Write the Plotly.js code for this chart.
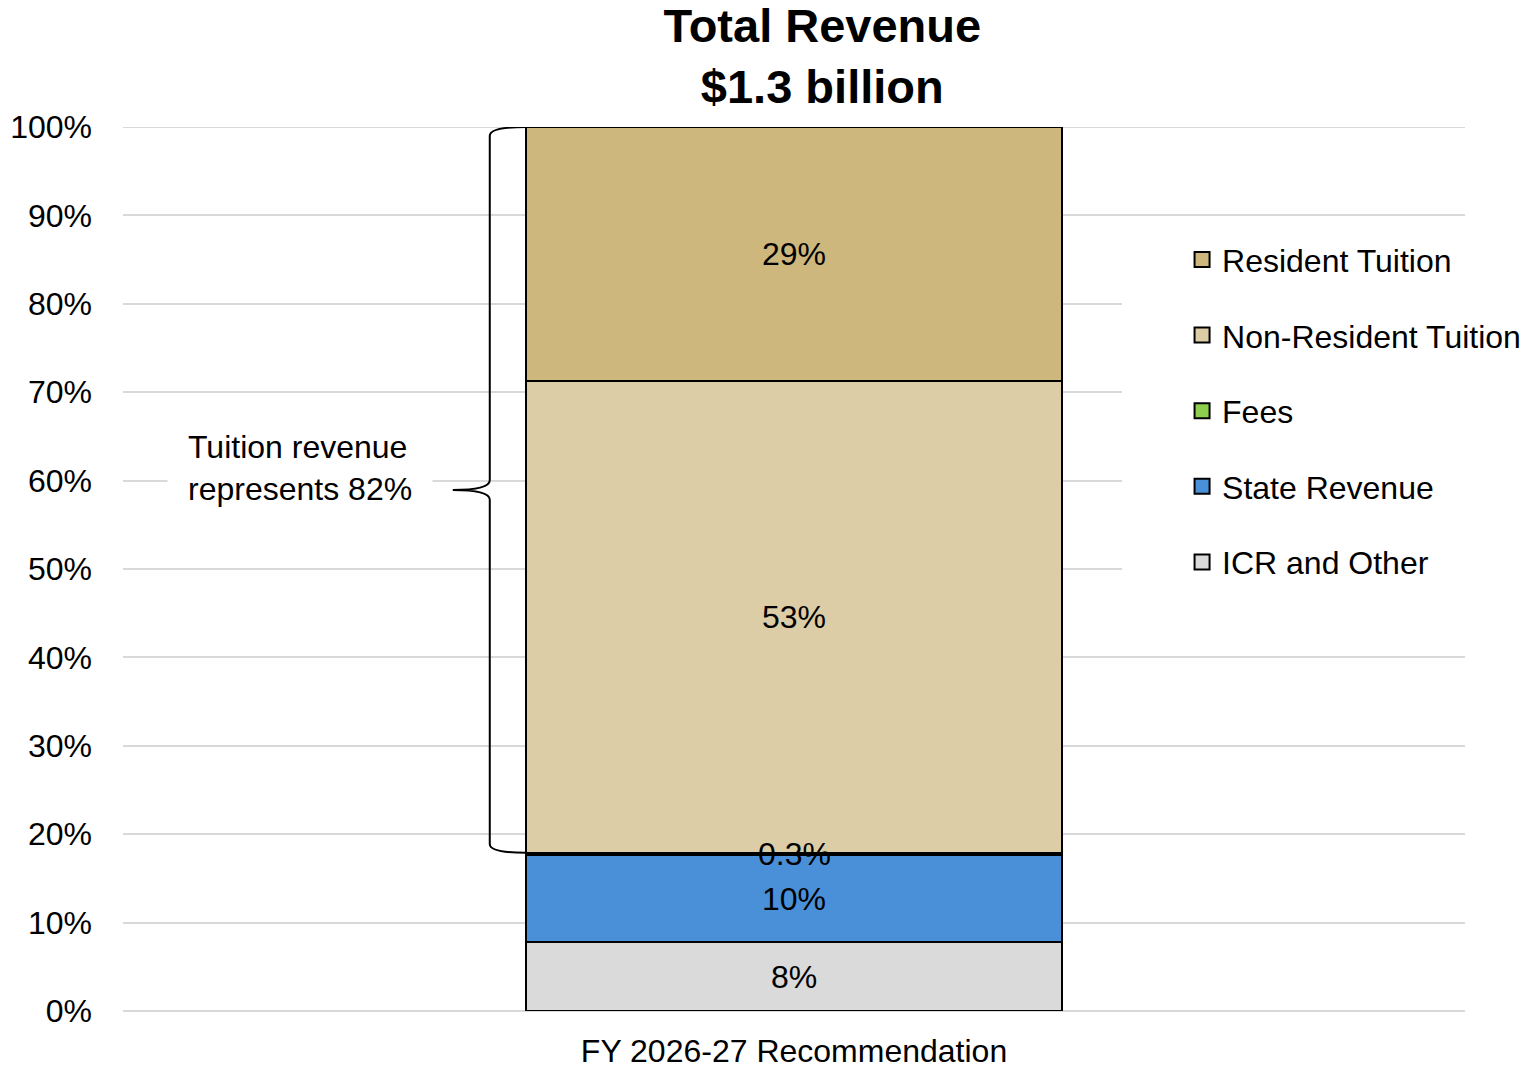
<!DOCTYPE html>
<html>
<head>
<meta charset="utf-8">
<script src="https://cdn.plot.ly/plotly-3.0.1.min.js"></script>
<style>html,body{margin:0;padding:0;background:#fff;}#chart{width:1537px;height:1068px;}</style>
</head>
<body>
<div id="chart"></div>
<script>
const categories = ['FY 2026-27 Recommendation'];
const seriesNames = ['ICR and Other', 'State Revenue', 'Fees', 'Non-Resident Tuition', 'Resident Tuition'];
const icrOther = [7.8];
const stateRevenue = [9.8];
const fees = [0.3];
const nonResident = [53.4];
const resident = [28.7];
const labels = [['8%'], ['10%'], ['0.3%'], ['53%'], ['29%']];
const colors = ['#DADADA', '#4A90D9', '#8DCE4D', '#DDCDA6', '#CEB77C'];
const yTickVals = [0,10,20,30,40,50,60,70,80,90,100];
const yTickText = ['0%','10%','20%','30%','40%','50%','60%','70%','80%','90%','100%'];

const FONT = 'Liberation Sans, Arial, Helvetica, sans-serif';
const FS = 32;
const values = [icrOther, stateRevenue, fees, nonResident, resident];
const FEES_IDX = 2;

const barTraces = values.map((v, i) => ({
  type: 'bar',
  name: seriesNames[i],
  x: categories,
  y: v,
  text: i === FEES_IDX ? [''] : labels[i],
  textposition: 'inside',
  insidetextanchor: 'middle',
  constraintext: 'none',
  textangle: 0,
  textfont: {family: FONT, size: FS, color: '#000'},
  marker: {color: colors[i], line: {color: '#000', width: 2}},
  width: 0.4,
  legendgroup: 'g' + i,
  showlegend: false,
  hoverinfo: 'skip'
}));

// legend-only entries (larger square swatches), top of stack listed first
const legendTraces = values.map((v, i) => ({
  type: 'scatter', mode: 'markers',
  name: seriesNames[i],
  x: categories, y: [null],
  marker: {symbol: 'square', size: 15, color: colors[i], line: {color: '#000', width: 2}},
  legendgroup: 'g' + i,
  legendrank: 1000 - i,
  showlegend: true,
  hoverinfo: 'skip'
}));

// brace geometry from data sums
const braceTop = resident[0] + nonResident[0] + fees[0] + stateRevenue[0] + icrOther[0];
const braceBottom = icrOther[0] + stateRevenue[0] + fees[0];
const braceMid = (braceTop + braceBottom) / 2;
const xBar = 0.3001, xLine = 0.2733, xTip = 0.2457;
const bracePath = `M ${xBar},${braceTop} Q ${xLine},${braceTop} ${xLine},${braceTop-1} L ${xLine},${braceMid+1.1} Q ${xLine},${braceMid} ${xTip},${braceMid} Q ${xLine},${braceMid} ${xLine},${braceMid-1.1} L ${xLine},${braceBottom+1} Q ${xLine},${braceBottom} ${xBar},${braceBottom}`;

const layout = {
  width: 1537, height: 1068,
  margin: {l: 123, r: 71, t: 127, b: 57},
  paper_bgcolor: '#fff', plot_bgcolor: '#fff',
  barmode: 'stack',
  font: {family: FONT, size: FS, color: '#000'},
  title: {
    text: '<b>Total Revenue</b><br><b>$1.3 billion</b>',
    font: {family: FONT, size: 47, color: '#000'},
    x: 0.535, xref: 'container', xanchor: 'center',
    y: 0.9604, yref: 'container', yanchor: 'top'
  },
  xaxis: {
    type: 'category',
    range: [-0.5, 0.5],
    showgrid: false, showline: false, zeroline: false,
    ticks: '', tickfont: {family: FONT, size: FS, color: '#000'},
    ticklabelstandoff: 18
  },
  yaxis: {
    range: [0, 100],
    tickvals: yTickVals, ticktext: yTickText,
    showgrid: true, gridcolor: '#D9D9D9', gridwidth: 2,
    zeroline: true, zerolinecolor: '#D9D9D9', zerolinewidth: 2,
    showline: false, ticks: '',
    tickfont: {family: FONT, size: FS, color: '#000'},
    ticklabelstandoff: 30,
    fixedrange: true
  },
  showlegend: true,
  legend: {
    x: 0.7439, xanchor: 'left', xref: 'paper',
    y: 0.881, yanchor: 'top', yref: 'paper',
    bgcolor: '#fff',
    traceorder: 'grouped',
    tracegroupgap: 31,
    indentation: 60,
    font: {family: FONT, size: FS, color: '#000'}
  },
  shapes: [{
    type: 'line', xref: 'paper', yref: 'y', layer: 'below',
    x0: 0, x1: 1, y0: braceTop, y1: braceTop,
    line: {color: '#D9D9D9', width: 2}
  }, {
    type: 'path', xref: 'paper', yref: 'y',
    path: bracePath,
    line: {color: '#000', width: 2}
  }],
  annotations: [{
    xref: 'paper', yref: 'y',
    x: 0.0328, y: 61.4, xanchor: 'left', yanchor: 'middle',
    text: 'Tuition revenue<br>represents 82%',
    align: 'left', showarrow: false,
    bgcolor: '#fff', borderpad: 20,
    font: {family: FONT, size: FS, color: '#000'}
  }, {
    xref: 'x', yref: 'y',
    x: categories[0], y: icrOther[0] + stateRevenue[0] + fees[0] / 2,
    text: labels[FEES_IDX][0], showarrow: false,
    xanchor: 'center', yanchor: 'middle',
    font: {family: FONT, size: FS, color: '#000'}
  }]
};

Plotly.newPlot('chart', barTraces.concat(legendTraces), layout, {displayModeBar: false, staticPlot: true});
</script>
</body>
</html>
